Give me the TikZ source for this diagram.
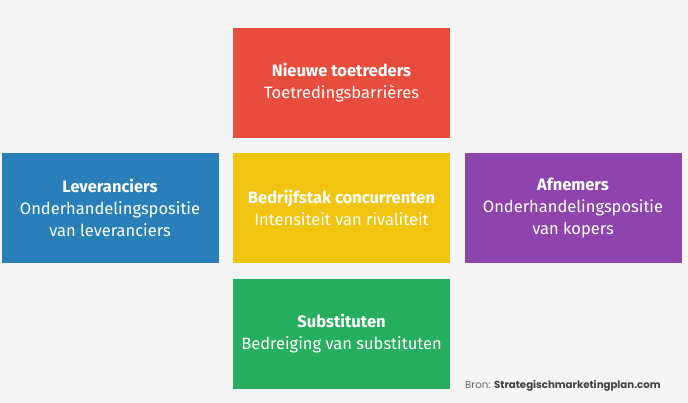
\documentclass[tikz,border=0pt]{standalone}
\usepackage{fontspec}
\setmainfont{Fira Sans}
\newfontfamily\bronfont{Poppins}
\definecolor{bg}{HTML}{F5F5F5}
\definecolor{fred}{HTML}{E74C3C}
\definecolor{fblue}{HTML}{2980B9}
\definecolor{fyellow}{HTML}{F1C40F}
\definecolor{fpurple}{HTML}{8E44AD}
\definecolor{fgreen}{HTML}{27AE60}
\begin{document}
\begin{tikzpicture}[
 x=1pt,y=-1pt,
 font=\fontsize{16.5}{22}\selectfont,
 force/.style={draw=none,minimum width=217pt,minimum height=110pt,inner sep=0pt,align=center,text=white}]
\fill[bg] (0,0) rectangle (688,403);
\useasboundingbox (0,0) rectangle (688,403);
\node[force,fill=fred] (nieuw) at (341.5,83) {\textbf{Nieuwe toetreders}\\Toetredingsbarrières};
\node[force,fill=fblue] (lev) at (110,208) {\textbf{Leveranciers}\\Onderhandelingspositie\\van leveranciers};
\node[force,fill=fyellow] (bedrijf) at (341.5,208) {\textbf{Bedrijfstak concurrenten}\\Intensiteit van rivaliteit};
\node[force,fill=fpurple] (afn) at (573,208) {\textbf{Afnemers}\\Onderhandelingspositie\\van kopers};
\node[force,fill=fgreen] (subst) at (341.5,334) {\textbf{Substituten}\\Bedreiging van substituten};
\node[anchor=base west,inner sep=0pt,text=black!60,font=\bronfont\fontsize{10.2}{12}\selectfont] (bron) at (465,388) {Bron: \textcolor{black!75}{\bfseries Strategischmarketingplan.com}};
\end{tikzpicture}
\end{document}
